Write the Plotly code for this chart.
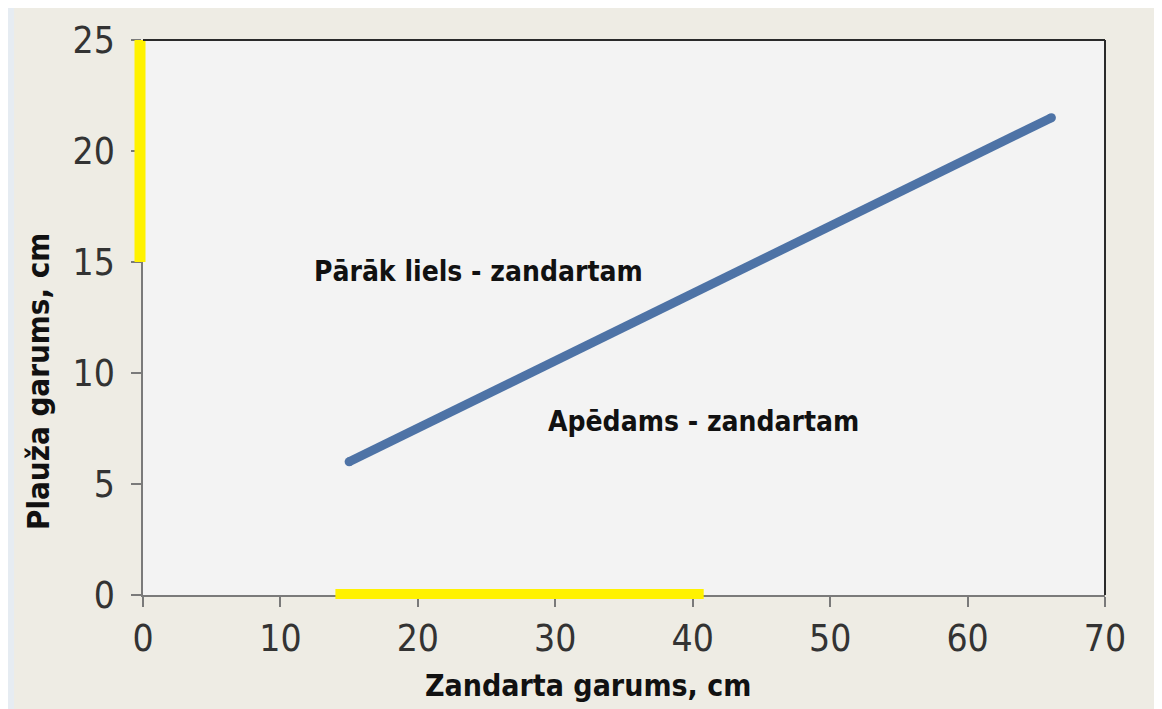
import plotly.graph_objects as go

# Data
line_x = [15, 66.1]
line_y = [6.0, 21.5]
yellow_y_span = [15, 25]      # highlight on y axis (at x=0)
yellow_x_span = [14, 40.8]    # highlight on x axis (at y=0)
x_ticks = [0, 10, 20, 30, 40, 50, 60, 70]
y_ticks = [0, 5, 10, 15, 20, 25]
labels = ["Pārāk liels - zandartam", "Apēdams - zandartam"]
label_x = [24.4, 40.8]
label_y = [14.55, 7.8]
x_title = "Zandarta garums, cm"
y_title = "Plauža garums, cm"

NARROW = "Liberation Sans Narrow, DejaVu Sans Condensed, Arial Narrow, sans-serif"
LINE_C = "#4E73A6"
YEL = "#FFF200"

W, H = 1150, 701
L, R, T, B = 135, 53, 32, 114
PW, PH = W - L - R, H - T - B

fig = go.Figure()

# main line
fig.add_trace(go.Scatter(
    x=line_x, y=line_y, mode="lines+markers",
    line=dict(color=LINE_C, width=9),
    marker=dict(color=LINE_C, size=9),
    showlegend=False))

# yellow highlights along the axes (shapes tied to one data axis only, so they can overflow)
fig.add_shape(type="line", xref="x domain", yref="y",
              xsizemode="pixel", xanchor=0, x0=-3, x1=-3,
              y0=yellow_y_span[0], y1=yellow_y_span[1],
              line=dict(color=YEL, width=11), layer="above")
fig.add_shape(type="line", xref="x", yref="y domain",
              ysizemode="pixel", yanchor=0, y0=1, y1=1,
              x0=yellow_x_span[0], x1=yellow_x_span[1],
              line=dict(color=YEL, width=10), layer="above")

for t, xx, yy in zip(labels, label_x, label_y):
    fig.add_annotation(x=xx, y=yy, text=t, showarrow=False,
                       font=dict(family=NARROW, size=28, color="#111111", weight="bold"),
                       xanchor="center", yanchor="middle")

# axis titles (placed off-centre as in the original)
fig.add_annotation(xref="paper", yref="paper", x=(588 - 143) / PW, y=(595 - 685) / PH,
                   text=x_title, showarrow=False, xanchor="center", yanchor="middle",
                   font=dict(family=NARROW, size=30, color="#111111", weight="bold"))
fig.add_annotation(xref="paper", yref="paper", x=(38 - 143) / PW, y=(595 - 382) / PH,
                   text=y_title, showarrow=False, xanchor="center", yanchor="middle",
                   textangle=-90,
                   font=dict(family=NARROW, size=31, color="#111111", weight="bold"))

# top and right black borders
fig.add_shape(type="line", xref="x domain", yref="y domain", x0=0, x1=1, y0=1, y1=1,
              line=dict(color="#2a2a2a", width=2))
fig.add_shape(type="line", xref="x domain", yref="y domain", x0=1, x1=1, y0=0, y1=1,
              line=dict(color="#2a2a2a", width=2))
# light strip along the left edge
fig.add_shape(type="rect", xref="paper", yref="paper", x0=-L / PW, x1=(6 - L) / PW,
              y0=-B / PH, y1=1 + T / PH, line=dict(width=0), fillcolor="#E6ECF2", layer="below")

axis_common = dict(
    showgrid=False, zeroline=False, showline=True, linecolor="#7a7a7a", linewidth=1.5,
    ticks="outside", ticklen=10, tickcolor="#7a7a7a", tickwidth=1.5, automargin=False,
    tickfont=dict(family=NARROW, size=37, color="#333333"),
)
fig.update_xaxes(range=[0, 70], tickvals=x_ticks, **axis_common)
fig.update_yaxes(range=[0, 25], tickvals=y_ticks, ticklabelstandoff=9, **axis_common)

fig.update_layout(
    width=W, height=H,
    margin=dict(l=L, r=R, t=T, b=B),
    paper_bgcolor="#EEECE4", plot_bgcolor="#F3F3F3",
    showlegend=False,
)
fig.write_html("out.html")
